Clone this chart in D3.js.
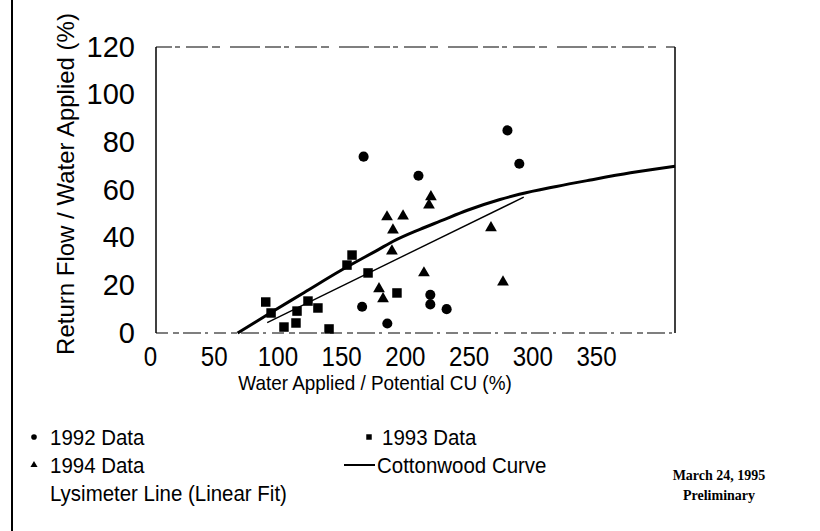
<!DOCTYPE html>
<html><head><meta charset="utf-8">
<script src="https://cdn.jsdelivr.net/npm/d3@7"></script>
<style>
body{margin:0;background:#fff}
svg{display:block}
text{font-family:"Liberation Sans",Arial,Helvetica,sans-serif;fill:#000}
</style>
</head><body>
<svg id="c" width="820" height="531"></svg>
<script>
// ---- data (x = Water Applied / Potential CU %, y = Return Flow / Water Applied %)
const data1992 = [[237,85],[245,71],[140,74],[177,66],[139,11],[185,16],[185,12],[196,10],[156,4]];
const data1993 = [[74,13],[77.6,8.4],[86.3,2.5],[94.4,4.2],[95.1,9.2],[102.5,13.4],[109.2,10.5],[116.7,1.7],[132.2,32.7],[128.8,28.5],[143,25.2],[162.5,16.8]];
const data1994 = [[185.4,57.1],[184.1,53.7],[155.8,48.7],[166.6,49.1],[159.8,43.2],[159.1,34.4],[225.9,44.1],[234,21.4],[180.7,25.2],[150.4,18.5],[153.1,14.3]];
const cottonwoodX = [55,77,100,124,150,160,178,192,210,232,245,270,293,320,350];
const cottonwoodY = [0,8.4,17,26,35,38.5,43.5,47,51.5,56,58.2,61.5,64.2,67.2,70];
const lysimeterX = [75,248];
const lysimeterY = [4.4,57];
const xTicks = [0,50,100,150,200,250,300,350];
const yTicks = [0,20,40,60,80,100,120];

const svg = d3.select("#c");
const x = d3.scaleLinear().domain([0,350]).range([156,675]);
const xLab = d3.scaleLinear().domain([0,350]).range([150,596]);
const y = d3.scaleLinear().domain([0,120]).range([333,47]);

function squeeze(sel, k){
  sel.each(function(){
    const w = this.getComputedTextLength();
    d3.select(this).attr("textLength", w*k).attr("lengthAdjust","spacingAndGlyphs");
  });
}

// page border line (scan edge)
svg.append("line").attr("x1",12).attr("x2",12).attr("y1",0).attr("y2",531)
  .attr("stroke","#000").attr("stroke-width",2);

// frame
const g = svg.append("g");
g.append("line").attr("x1",x(0)).attr("x2",x(0)).attr("y1",y(120)).attr("y2",y(0)).attr("stroke","#000").attr("stroke-width",1.5);
g.append("line").attr("x1",x(350)).attr("x2",x(350)).attr("y1",y(120)).attr("y2",y(0)).attr("stroke","#000").attr("stroke-width",1.5);
g.append("line").attr("x1",x(0)).attr("x2",x(350)).attr("y1",y(120)).attr("y2",y(120)).attr("stroke","#000").attr("stroke-width",1.2)
  .attr("stroke-dasharray","16,3,5,6,22,4,8,10,30,5");
g.append("line").attr("x1",x(0)).attr("x2",x(350)).attr("y1",y(0)).attr("y2",y(0)).attr("stroke","#000").attr("stroke-width",1.2)
  .attr("stroke-dasharray","12,5,6,4,18,4,3,6");

// axes
const ya = svg.append("g").attr("transform",`translate(${x(0)},0)`)
  .call(d3.axisLeft(y).tickValues(yTicks).tickSize(0).tickPadding(21));
ya.select(".domain").remove();
ya.selectAll("text").style("font-size","29px").attr("font-family",null);

const xa = svg.append("g").attr("transform",`translate(0,${y(0)})`)
  .call(d3.axisBottom(xLab).tickValues(xTicks).tickSize(0).tickPadding(13));
xa.select(".domain").remove();
xa.selectAll("text").style("font-size","28px").attr("font-family",null).call(squeeze,0.86);

// axis titles
svg.append("text").attr("transform","translate(74,184) rotate(-90)").attr("text-anchor","middle")
  .style("font-size","24px").text("Return Flow / Water Applied  (%)");
svg.append("text").attr("x",375).attr("y",390).attr("text-anchor","middle")
  .style("font-size","21px").text("Water Applied / Potential CU  (%)").call(squeeze,0.9);

// lines
const cw = cottonwoodX.map((v,i)=>[v,cottonwoodY[i]]);
svg.append("path").attr("d",d3.line().x(d=>x(d[0])).y(d=>y(d[1])).curve(d3.curveMonotoneX)(cw)).attr("fill","none")
  .attr("stroke","#000").attr("stroke-width",3);
const ly = lysimeterX.map((v,i)=>[v,lysimeterY[i]]);
svg.append("path").attr("d",d3.line().x(d=>x(d[0])).y(d=>y(d[1]))(ly)).attr("fill","none")
  .attr("stroke","#000").attr("stroke-width",1.4);

// markers
const sym = (type,size)=>d3.symbol().type(type).size(size)();
function pts(data,type,size){
  svg.append("g").selectAll("path").data(data).join("path")
    .attr("transform",d=>`translate(${x(d[0])},${y(d[1])})`)
    .attr("d",sym(type,size)).attr("fill","#000");
}
pts(data1992,d3.symbolCircle,80);
pts(data1993,d3.symbolSquare,90);
pts(data1994,d3.symbolTriangle,60);

// legend
const lg = svg.append("g").style("font-size","22px");
const legendItems = [
  {label:"1992 Data", type:"circle", lx:34, tx:50, yy:437},
  {label:"1993 Data", type:"square", lx:369, tx:382, yy:437},
  {label:"1994 Data", type:"triangle", lx:34, tx:50, yy:465},
  {label:"Cottonwood Curve", type:"line", lx:360, tx:377, yy:465},
  {label:"Lysimeter Line (Linear Fit)", type:"none", lx:34, tx:50, yy:493}
];
legendItems.forEach(it=>{
  if(it.type==="circle") lg.append("path").attr("transform",`translate(${it.lx},${it.yy})`).attr("d",sym(d3.symbolCircle,25));
  if(it.type==="square") lg.append("path").attr("transform",`translate(${it.lx},${it.yy})`).attr("d",sym(d3.symbolSquare,30));
  if(it.type==="triangle") lg.append("path").attr("transform",`translate(${it.lx},${it.yy})`).attr("d",sym(d3.symbolTriangle,22));
  if(it.type==="line") lg.append("line").attr("x1",it.lx-16).attr("x2",it.lx+15).attr("y1",it.yy).attr("y2",it.yy).attr("stroke","#000").attr("stroke-width",2);
  lg.append("text").attr("x",it.tx).attr("y",it.yy).attr("dy","0.35em").text(it.label).call(squeeze,0.93);
});

// note
svg.append("text").attr("x",719).attr("y",480).attr("text-anchor","middle")
  .style("font-family","'Liberation Serif','Times New Roman',serif").style("font-size","14px").style("font-weight","bold").text("March 24, 1995");
svg.append("text").attr("x",719).attr("y",500).attr("text-anchor","middle")
  .style("font-family","'Liberation Serif','Times New Roman',serif").style("font-size","14px").style("font-weight","bold").text("Preliminary");
</script>
</body></html>
